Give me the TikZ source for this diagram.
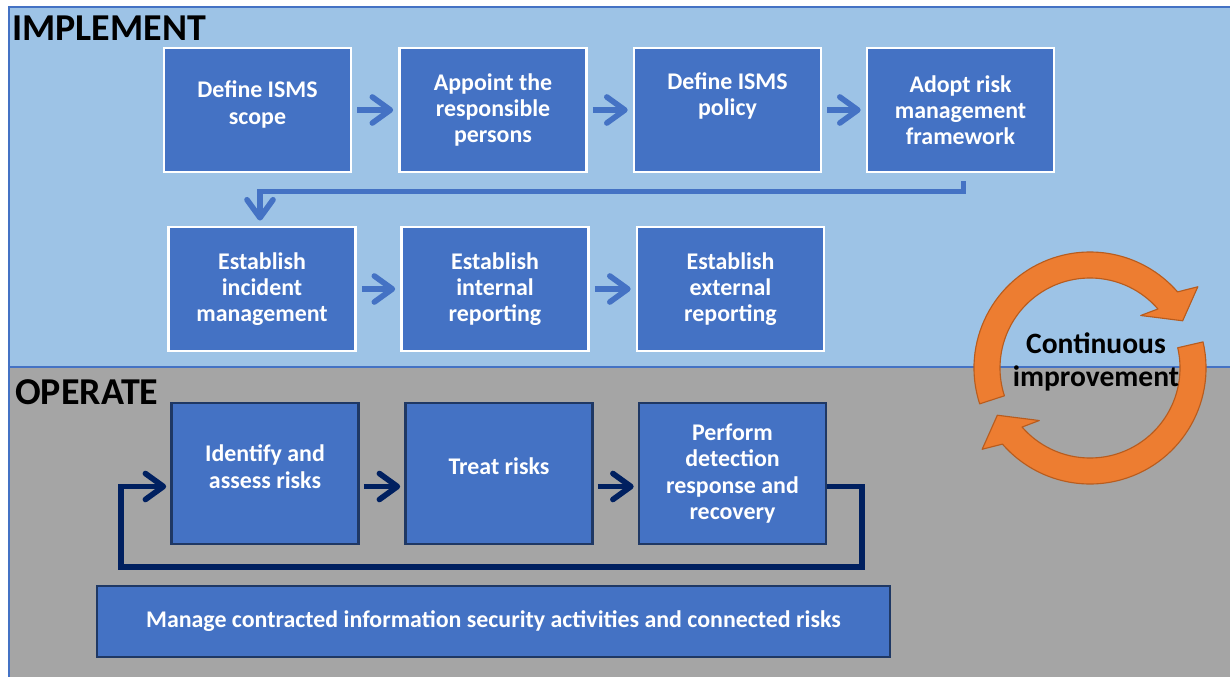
\documentclass[tikz,border=0pt]{standalone}
\usepackage{fontspec}
\setmainfont{Carlito}
\usepackage{xcolor}
\usepackage{tikz}
\usetikzlibrary{positioning,arrows.meta}

\definecolor{implbg}{HTML}{9DC3E6}
\definecolor{implblue}{HTML}{4472C4}
\definecolor{opbg}{HTML}{A5A5A5}
\definecolor{opnavy}{HTML}{002060}
\definecolor{opedge}{HTML}{1F3864}
\definecolor{cycorange}{HTML}{ED7D31}
\definecolor{cycedge}{HTML}{B85C1E}

\tikzset{
    implbox/.style={rectangle, fill=implblue, draw=white, line width=2pt,
        minimum width=4.675cm, minimum height=3.1cm, align=center, text=white,
        font=\bfseries\fontsize{17}{18.7}\selectfont},
    opbox/.style={implbox, draw=opedge, line width=1.8pt, minimum height=3.525cm},
    implarrow/.style={draw=implblue, line width=4pt,
        -{Straight Barb[length=4.5mm,width=6.5mm,round]}},
    oparrow/.style={implarrow, draw=opnavy},
    phase/.style={anchor=west, inner sep=0pt, font=\bfseries\fontsize{27}{30}\selectfont},
    cyclearrow/.style={fill=cycorange, draw=cycedge, line width=0.8pt, line join=round},
}

\begin{document}
\begin{tikzpicture}[x=0.025cm, y=-0.025cm]
    \useasboundingbox (0,0) rectangle (1230,677);

    % Background bands
    \fill[white] (0,0) rectangle (1230,677);
    \fill[implbg] (9,7) rectangle (1230,367);
    \fill[opbg] (9,367) rectangle (1230,677);
    \draw[implblue, line width=0.8pt] (1230,7) -- (9,7) -- (9,677);
    \draw[implblue, line width=0.8pt] (9,367) -- (1230,367);

    \node[phase] (implement) at (12,28) {IMPLEMENT};
    \node[phase] (operate) at (15,392) {OPERATE};

    % Implement steps
    \node[implbox, text depth=10.5pt] (defscope) at (257.5,110) {Define ISMS\\scope};
    \node[implbox] (appoint) at (493,110) {Appoint the\\responsible\\persons};
    \node[implbox, text depth=23pt] (policy) at (727.5,110) {Define ISMS\\policy};
    \node[implbox] (adopt) at (960.5,110) {Adopt risk\\management\\framework};

    \node[implbox] (incident) at (262,289) {Establish\\incident\\management};
    \node[implbox] (internal) at (495,289) {Establish\\internal\\reporting};
    \node[implbox] (external) at (730.5,289) {Establish\\external\\reporting};

    \draw[implarrow, shorten <=3.5pt, shorten >=3.5pt] (defscope) -- (appoint);
    \draw[implarrow, shorten <=3.5pt, shorten >=3.5pt] (appoint) -- (policy);
    \draw[implarrow, shorten <=3.5pt, shorten >=3.5pt] (policy) -- (adopt);
    \draw[implarrow] ([shift={(3,8)}]adopt.south) -- ++(0,10) -| ([shift={(-2,-5)}]incident.north);
    \draw[implarrow, shorten <=3.5pt, shorten >=3.5pt] (incident) -- (internal);
    \draw[implarrow, shorten <=3.5pt, shorten >=3.5pt] (internal) -- (external);

    % Operate steps
    \node[opbox, text depth=10pt] (identify) at (265,473.5) {Identify and\\assess risks};
    \node[opbox, text depth=10pt] (treat) at (499,473.5) {Treat risks};
    \node[opbox] (perform) at (732.5,473.5) {Perform\\detection\\response and\\recovery};
    \node[opbox, minimum width=19.825cm, minimum height=1.775cm] (manage) at (493.5,621.5)
        {Manage contracted information security activities and connected risks};

    \coordinate (loopR) at (862,567);
    \coordinate (loopL) at (121,567);
    \draw[oparrow] ([shift={(4,13)}]identify.east) -- ([shift={(-4,13)}]treat.west);
    \draw[oparrow] ([shift={(4,13)}]treat.east) -- ([shift={(-4,13)}]perform.west);
    \draw[oparrow] ([shift={(0,13)}]perform.east) -| (loopR) -- (loopL) |- ([shift={(-4,13)}]identify.west);

    % Continuous improvement cycle
    \begin{scope}[shift={(1090,368)}, y=0.025cm]
        \draw[cyclearrow] (198:116) arc[start angle=198, end angle=41, radius=116]
            -- (37:135) -- (27:104) -- (46:73) -- (41:90)
            arc[start angle=41, end angle=198, radius=90] -- cycle;
        \draw[cyclearrow] (13:116) arc[start angle=13, end angle=-139, radius=116]
            -- (217:135) -- (207:104) -- (226:73) -- (221:90)
            arc[start angle=-139, end angle=13, radius=90] -- cycle;
    \end{scope}
    \node[align=center, font=\bfseries\fontsize{21}{23.5}\selectfont] (improve) at (1096,362)
        {Continuous\\improvement};

\end{tikzpicture}
\end{document}
